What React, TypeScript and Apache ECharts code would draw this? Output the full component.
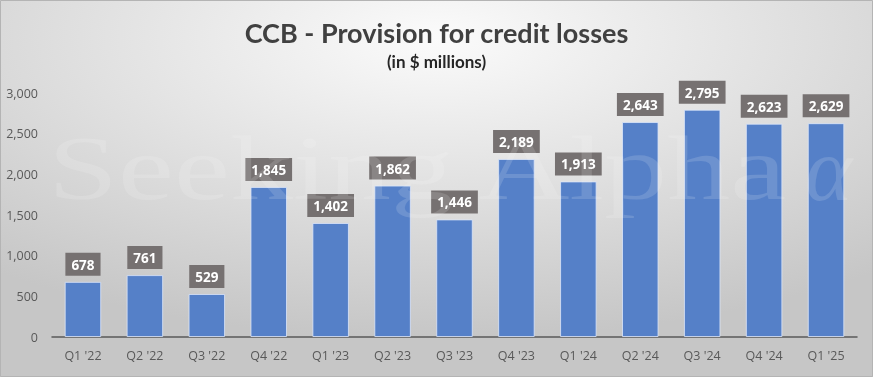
import React, { useEffect, useRef } from "react";
import * as echarts from "echarts";

const categories = ["Q1 '22", "Q2 '22", "Q3 '22", "Q4 '22", "Q1 '23", "Q2 '23", "Q3 '23", "Q4 '23", "Q1 '24", "Q2 '24", "Q3 '24", "Q4 '24", "Q1 '25"];
const provisions = [678, 761, 529, 1845, 1402, 1862, 1446, 2189, 1913, 2643, 2795, 2623, 2629];
const yTicks = { min: 0, max: 3000, interval: 500 };
const titleText = "CCB - Provision for credit losses";
const subtitleText = "(in $ millions)";

const fmt = (v: number) => v.toLocaleString("en-US");

export default function App() {
  const ref = useRef<HTMLDivElement>(null);
  useEffect(() => {
    if (!ref.current) return;
    const chart = echarts.init(ref.current, null, { renderer: "svg" });
    chart.setOption({
      animation: false,
      backgroundColor: new echarts.graphic.RadialGradient(0.5, 0.1, 0.8, [
        { offset: 0, color: "#fbfbfb" },
        { offset: 1, color: "#c6c6c6" },
      ]),
      title: {
        text: titleText,
        subtext: subtitleText,
        left: "center",
        top: 14,
        itemGap: 7,
        textStyle: { fontFamily: "Lato", fontWeight: "bold", fontSize: 27, color: "#404040" },
        subtextStyle: { fontFamily: "Lato", fontWeight: "bold", fontSize: 17, color: "#262626" },
      },
      grid: { left: 52, right: 16, top: 93, bottom: 40, containLabel: false },
      xAxis: {
        type: "category",
        data: categories,
        axisTick: { show: false },
        axisLine: { lineStyle: { color: "#595959", width: 1.5 } },
        axisLabel: { color: "#595959", fontFamily: "Open Sans", fontSize: 12.5, margin: 12 },
      },
      yAxis: {
        type: "value",
        min: yTicks.min,
        max: yTicks.max,
        interval: yTicks.interval,
        splitLine: { show: false },
        axisLine: { show: false },
        axisTick: { show: false },
        axisLabel: { color: "#595959", fontFamily: "Open Sans", fontSize: 12.5, margin: 14, formatter: (v: number) => fmt(v) },
      },
      series: [
        {
          type: "bar",
          data: provisions,
          barCategoryGap: "41%",
          itemStyle: { color: "#5580c8", borderColor: "rgba(220,230,250,0.8)", borderWidth: 1 },
          label: {
            show: true,
            position: "top",
            distance: 6,
            formatter: (p: any) => fmt(p.value),
            backgroundColor: "#767171",
            color: "#ffffff",
            fontWeight: "bold",
            fontFamily: "Open Sans",
            fontSize: 13.5,
            padding: [5, 6, 4, 6],
          },
        },
      ],
      graphic: [
        {
          type: "text",
          x: 48,
          y: 214,
          scaleX: 1.4,
          z: 100,
          silent: true,
          style: {
            text: "Seeking Alpha",
            font: "90px 'Liberation Serif'",
            fill: "rgba(255,255,255,0.14)",
            textVerticalAlign: "bottom",
          },
        },
        {
          type: "text",
          x: 805,
          y: 214,
          z: 100,
          silent: true,
          style: {
            text: "α",
            font: "italic 90px 'Liberation Serif'",
            fill: "rgba(255,255,255,0.14)",
            textVerticalAlign: "bottom",
          },
        },
        {
          type: "rect",
          shape: { x: 0.5, y: 0.5, width: 872, height: 376 },
          silent: true,
          z: 100,
          style: { fill: "none", stroke: "#b4b4b4", lineWidth: 1 },
        },
      ],
    });
    return () => chart.dispose();
  }, []);
  return <div ref={ref} style={{ position: "fixed", left: 0, top: 0, width: 873, height: 377 }} />;
}
